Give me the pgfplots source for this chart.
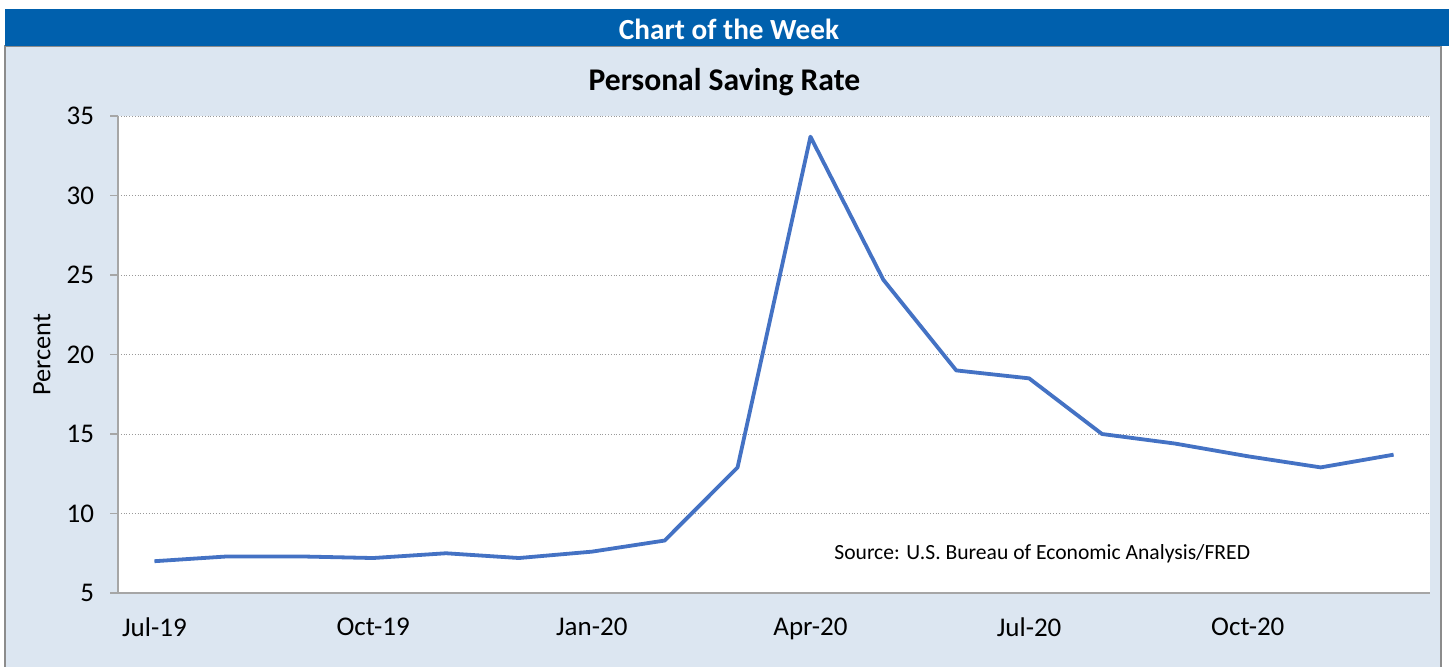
\documentclass[border=0pt]{standalone}
\usepackage{pgfplots}
\pgfplotsset{compat=1.18}
\usepackage{fontspec}
\setmainfont{Carlito}
\definecolor{hdr}{HTML}{0060AD}
\definecolor{panel}{HTML}{DCE6F1}
\definecolor{ln}{HTML}{4472C4}
\definecolor{bord}{HTML}{8C8C8C}
\begin{document}
\begin{tikzpicture}
\path[use as bounding box] (0,0) rectangle (724.5pt,333pt);
\fill[white] (0,0) rectangle (724.5pt,333pt);
\filldraw[fill=panel,draw=bord,line width=0.6pt] (2.5pt,-1pt) rectangle (720.5pt,310pt);
\fill[hdr] (2.5pt,310pt) rectangle (724.5pt,328.5pt);
\node[text=white,font=\fontsize{14.6}{16}\selectfont\bfseries] at (364.5pt,318.5pt) {Chart of the Week};
\node[font=\fontsize{15.8}{18}\selectfont\bfseries] at (362.2pt,292pt) {Personal Saving Rate};
\node[rotate=90,font=\fontsize{13.2}{15}\selectfont] at (21pt,155.5pt) {Percent};
\begin{axis}[
  at={(59pt,36.5pt)}, anchor=south west,
  scale only axis, width=656pt, height=238.5pt,
  xmin=-0.5, xmax=17.5, ymin=5, ymax=35,
  axis background/.style={fill=white},
  axis x line*=bottom, axis y line*=left,
  axis line style={draw=gray!70, line width=0.6pt, -},
  xtick={0,3,6,9,12,15},
  xticklabels={Jul-19,Oct-19,Jan-20,Apr-20,Jul-20,Oct-20},
  ytick={5,10,...,35},
  xtick style={draw=none},
  ytick style={draw=gray!70, line width=0.6pt},
  tick align=outside, major tick length=4pt,
  ymajorgrids, major grid style={densely dotted, gray!80, line width=0.4pt},
  ticklabel style={font=\fontsize{13.5}{15}\selectfont},
  xticklabel style={yshift=-5pt},
  yticklabel style={xshift=-4.5pt},
  /pgf/number format/assume math mode=true,
  clip=false,
]
\addplot[ln, line width=1.9pt, line join=round] coordinates {
(0,7.0) (1,7.3) (2,7.3) (3,7.2) (4,7.5) (5,7.2) (6,7.6) (7,8.3) (8,12.9)
(9,33.7) (10,24.7) (11,19.0) (12,18.5) (13,15.0) (14,14.4) (15,13.6) (16,12.9) (17,13.7)
};
\node[font=\fontsize{10.8}{12}\selectfont] at (axis cs:12.18,7.5) {Source: U.S. Bureau of Economic Analysis/FRED};
\end{axis}
\end{tikzpicture}
\end{document}
